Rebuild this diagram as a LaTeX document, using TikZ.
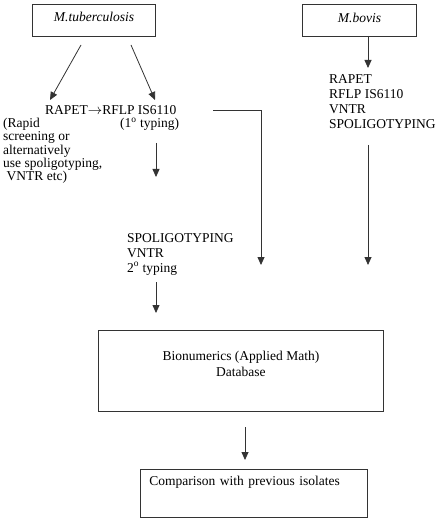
\documentclass[tikz,border=0pt]{standalone}
\usepackage{fontspec}
\setmainfont{Liberation Serif}
\usetikzlibrary{arrows.meta,positioning}

\tikzset{
  box/.style={draw=black!80, line width=0.9pt, inner sep=0pt},
  txt/.style={inner sep=0pt, align=left},
  arr/.style={draw=black!80, line width=0.8pt, -{Triangle[width=7pt,length=8pt]}},
}

\begin{document}
\begin{tikzpicture}[x=1pt, y=-1pt, font=\fontsize{13.5}{15}\selectfont]
  \useasboundingbox (0,0) rectangle (440,521);

  % species boxes
  \node[box, anchor=north west, minimum width=123pt, text height=17.5pt, text depth=14.5pt]
    (tb) at (32,4) {\textit{M.tuberculosis}};
  \node[box, anchor=north west, minimum width=114pt, text height=18pt, text depth=14pt]
    (bovis) at (302,4) {\textit{M.bovis}};

  % first line typing
  \node[txt, anchor=base west] (rapet) at (45,114.5) {RAPET$\rightarrow$RFLP IS6110};
  \node[txt, anchor=base west] (first) at (120,127.5) {(1\textsuperscript{o} typing)};
  \node[txt, anchor=base west, font=\fontsize{13.5}{13.35}\selectfont]
    (rapid) at (3,180.9) {(Rapid\\screening or\\alternatively\\use spoligotyping,\\\hspace{3.5pt}VNTR etc)};
  \node[txt, anchor=base west]
    (bovtyp) at (329,128.3) {RAPET\\RFLP IS6110\\VNTR\\SPOLIGOTYPING};

  % second line typing
  \node[txt, anchor=base west, font=\fontsize{13.5}{15}\selectfont]
    (second) at (127,272) {SPOLIGOTYPING\\VNTR\\2\textsuperscript{o} typing};

  % database and comparison
  \node[box, anchor=north west, minimum width=285pt, align=center, text height=46pt, text depth=35pt,
    font=\fontsize{13.5}{16}\selectfont]
    (db) at (98,330) {Bionumerics (Applied Math)\\Database};
  \node[box, anchor=north west, text width=209pt, inner xsep=9pt, align=left, text height=16pt, text depth=32pt]
    (cmp) at (140,469) {Comparison with previous isolates};

  % free ends of the arrows
  \coordinate (t1) at (81,45);   \coordinate (h1) at (50,100);
  \coordinate (t2) at (131,45);  \coordinate (h2) at (155,100);
  \coordinate (t3) at (156,143); \coordinate (h3) at (156,177);
  \coordinate (t4) at (156,282); \coordinate (h4) at (156,313);
  \coordinate (c0) at (213,110); \coordinate (c1) at (261,110); \coordinate (h5) at (261,265);
  \coordinate (t6) at (368,36);  \coordinate (h6) at (368,68);
  \coordinate (t7) at (368,145); \coordinate (h7) at (368,265);
  \coordinate (t8) at (245,427); \coordinate (h8) at (245,460);

  \draw[arr] (t1) -- (h1);
  \draw[arr] (t2) -- (h2);
  \draw[arr] (t3) -- (h3);
  \draw[arr] (t4) -- (h4);
  \draw[arr] (c0) -- (c1) -- (h5);
  \draw[arr] (t6) -- (h6);
  \draw[arr] (t7) -- (h7);
  \draw[arr] (t8) -- (h8);
\end{tikzpicture}
\end{document}
